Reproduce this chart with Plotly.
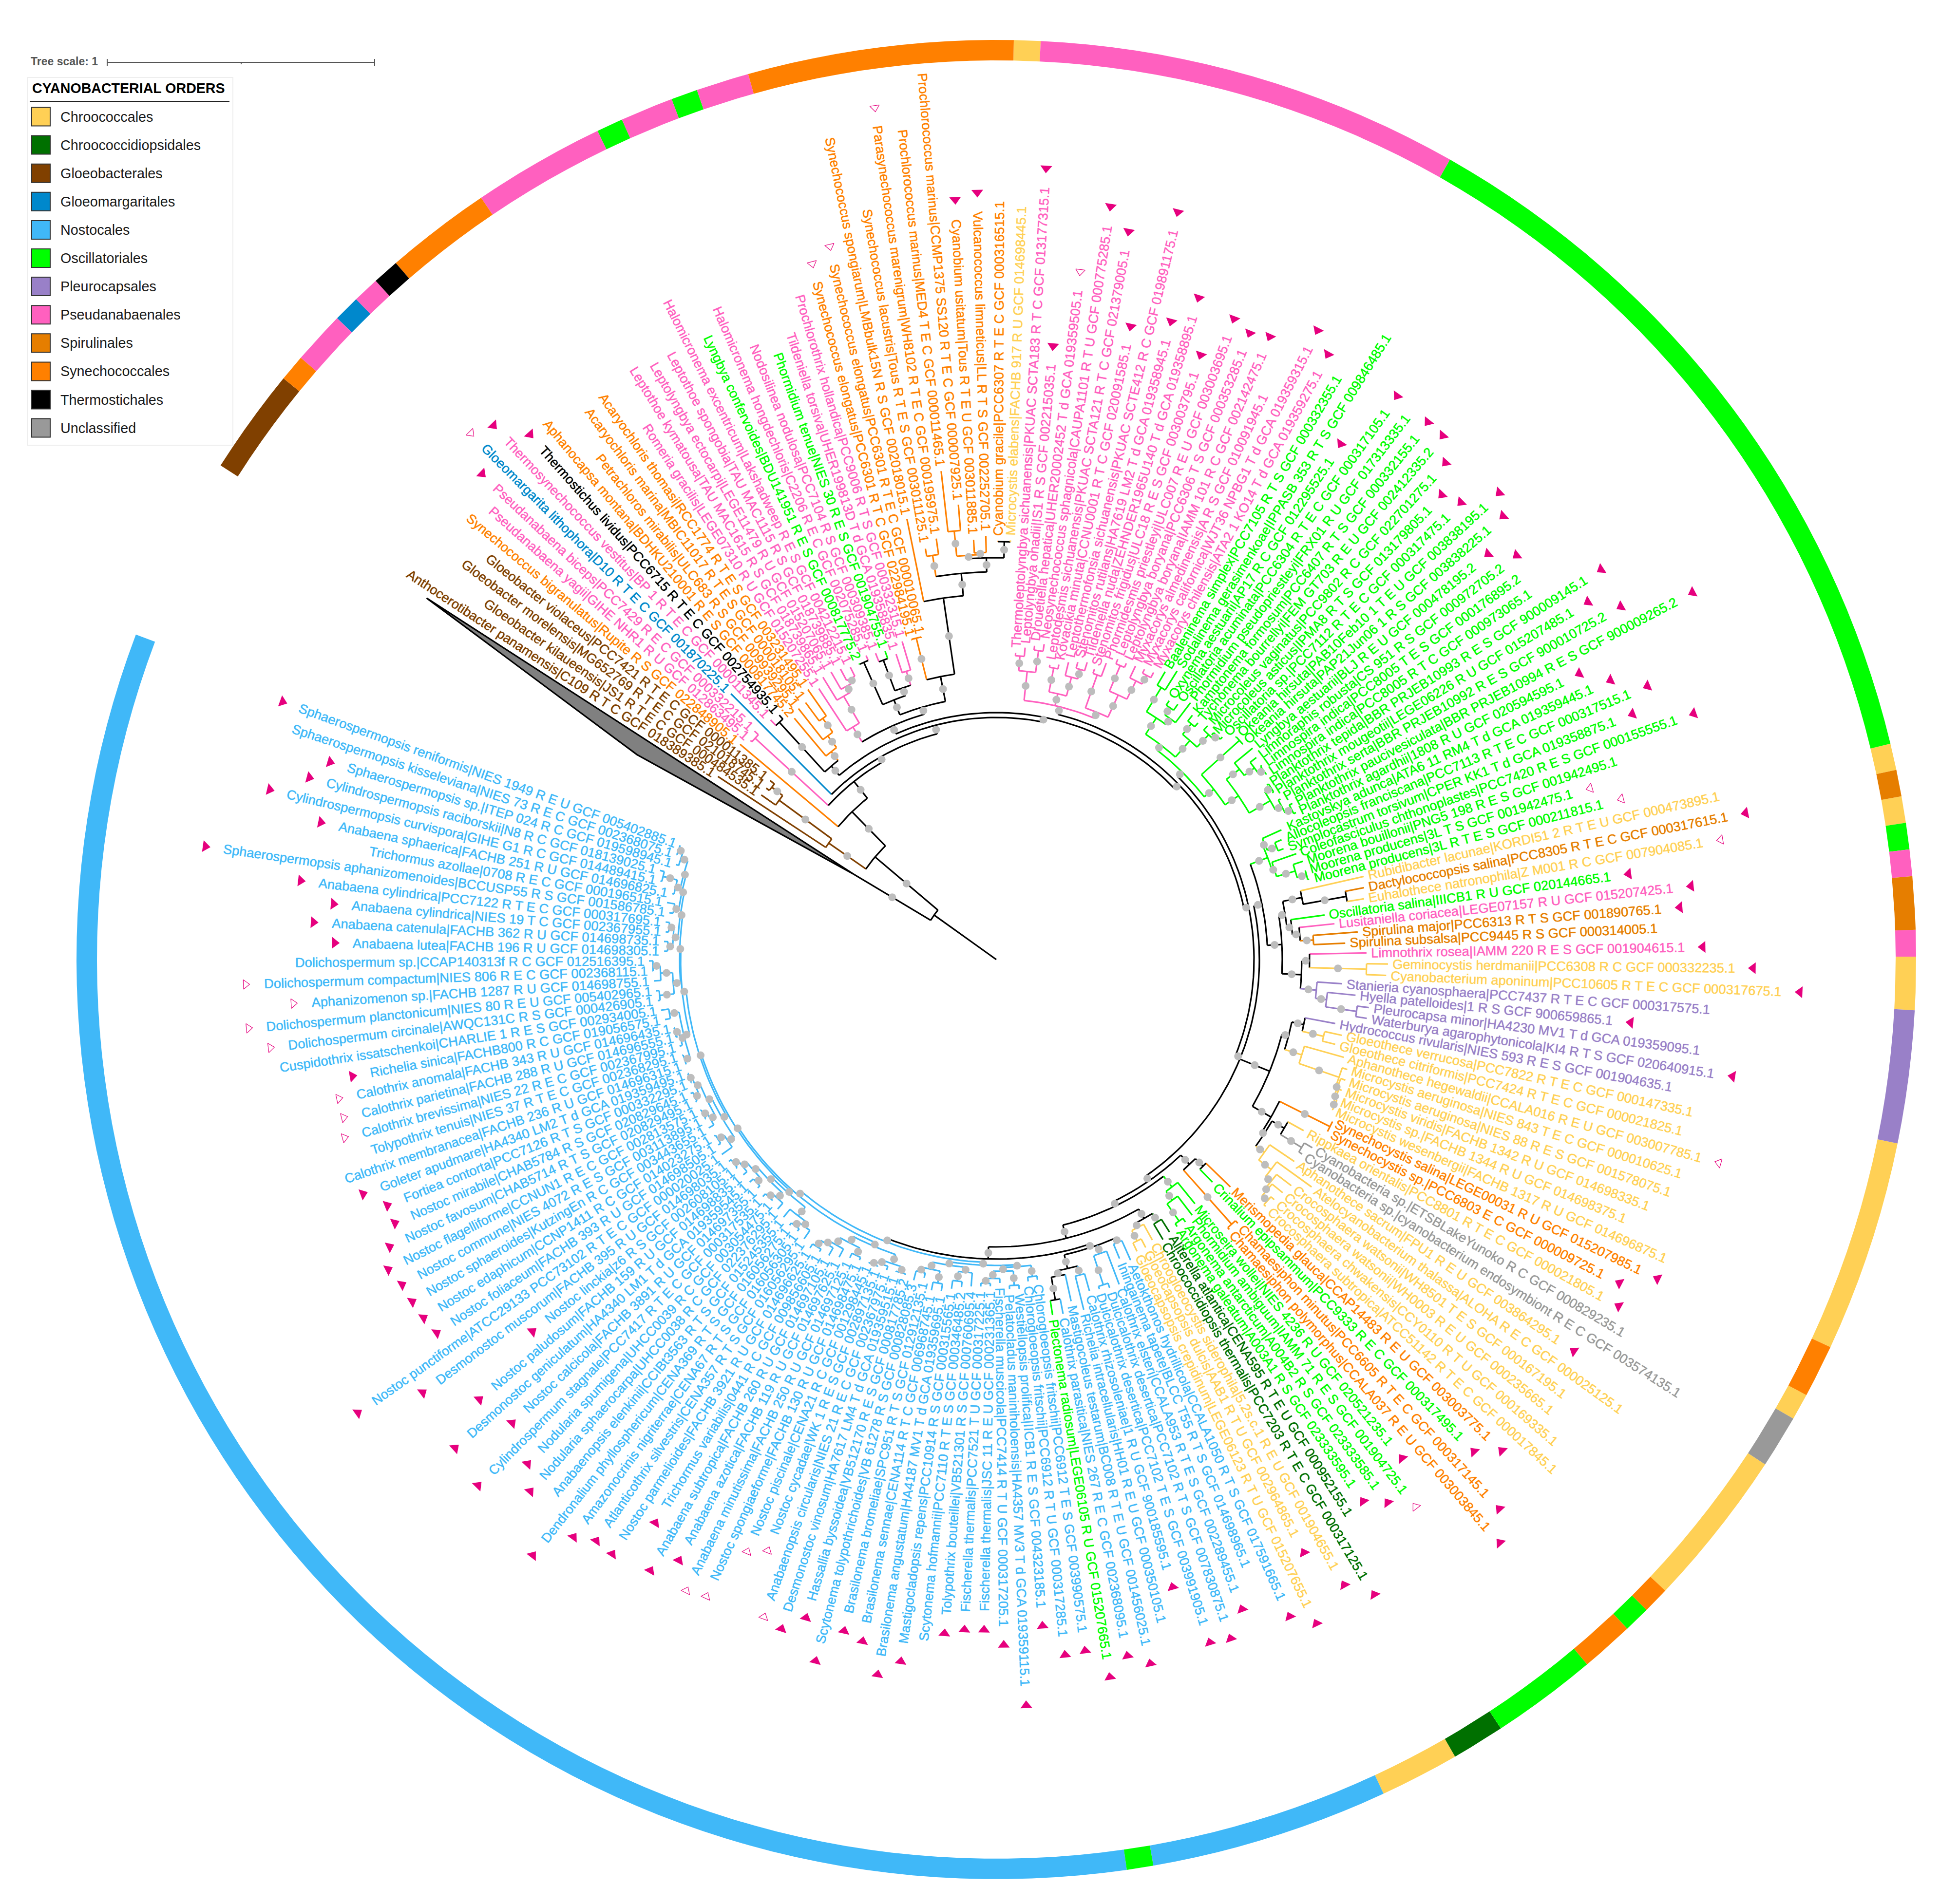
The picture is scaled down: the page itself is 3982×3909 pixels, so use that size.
import numpy as np
import plotly.graph_objects as go

# cyanobacterial orders
order_names = ["Chroococcales", "Chroococcidiopsidales", "Gloeobacterales", "Gloeomargaritales",
               "Nostocales", "Oscillatoriales", "Pleurocapsales", "Pseudanabaenales",
               "Spirulinales", "Synechococcales", "Thermostichales", "Unclassified"]
order_colors = ["#FFD055", "#007000", "#804000", "#0088CC", "#40B8F8", "#00FF00",
                "#9980C8", "#FF60BF", "#E67E00", "#FF8000", "#000000", "#999999"]

# leaves clockwise, starting at the root side
leaf_names = [
    "Anthocerotibacter panamensis|C109 R T C GCF 018389385.1", "Gloeobacter kilaueensis|JS1 R T E C GCF 000484535.1",
    "Gloeobacter morelensis|MG652769 R T E C GCF 021018745.1", "Gloeobacter violaceus|PCC7421 R T E C GCF 000011385.1",
    "Synechococcus bigranulatus|Rupite R S GCF 022848905.1", "Pseudanabaena yagii|GIHE NHR1 R U GCF 012863495.1",
    "Pseudanabaena biceps|PCC7429 R E C GCF 000332215.1", "Gloeomargarita lithophora|D10 R T E C GCF 001870225.1",
    "Thermosynechococcus vestitus|BP 1 R T E C GCF 000011345.1", "Thermostichus lividus|PCC6715 R T E C GCF 002754935.1",
    "Aphanocapsa montana|BDHKU210001 R E S GCF 000817745.2", "Petrachloros mirabilis|ULC683 R S GCF 009939295.1",
    "Acaryochloris marina|MBIC11017 R T E S GCF 000018105.1", "Acaryochloris thomasi|RCC1774 R T E S GCF 003231495.1",
    "Romeria gracilis|LEGE07310 R U GCF 015207255.1", "Leptothoe kymatousa|TAU MAC1615 R S GCF 018739865.1",
    "Leptolyngbya ectocarpi|LEGE11479 R U GCF 015207065.1", "Leptothoe spongobia|TAU MAC1115 R S GCF 018739885.1",
    "Halomicronema excentricum|Lakshadweep R E S GCF 004212215.1", "Lyngbya confervoides|BDU141951 R E S GCF 000817775.2",
    "Halomicronema hongdechloris|C2206 R E C GCF 002075285.1", "Nodosilinea nodulosa|PCC7104 R S GCF 000309385.1",
    "Phormidium tenue|NIES 30 R E S GCF 001904755.1", "Tildeniella torsiva|UHER199813D T d GCA 019358835.1",
    "Prochlorothrix hollandica|PCC9006 R T S GCF 000332315.1", "Synechococcus elongatus|PCC6301 R T C GCF 022984195.1",
    "Synechococcus elongatus|PCC6301 R T E C GCF 000010065.1", "Synechococcus spongiarum|LMBbulk15N R S GCF 002018015.1",
    "Synechococcus lacustris|Tous R T E S GCF 003011125.1", "Parasynechococcus marenigrum|WH8102 R T E C GCF 000195975.1",
    "Prochlorococcus marinus|MED4 T E C GCF 000011465.1", "Prochlorococcus marinus|CCMP1375 SS120 R T E C GCF 000007925.1",
    "Cyanobium usitatum|Tous R T E U GCF 003011885.1", "Vulcanococcus limneticus|LL R T S GCF 002252705.1",
    "Cyanobium gracile|PCC6307 R T E C GCF 000316515.1", "Microcystis elabens|FACHB 917 R U GCF 014698445.1",
    "Thermoleptolyngbya sichuanensis|PKUAC SCTA183 R T C GCF 013177315.1", "Leptolyngbya ohadii|IS1 R S GCF 002215035.1",
    "Drouetiella hepatica|UHER20002452 T d GCA 019359505.1", "Neosynechococcus sphagnicola|CAUPA1101 R T U GCF 000775285.1",
    "Leptodesmis sichuanensis|PKUAC SCTA121 R T C GCF 021379005.1", "Kovacikia minuta|CCNU0001 R T C GCF 020091585.1",
    "Leptothermofonsia sichuanensis|PKUAC SCTE412 R C GCF 019891175.1", "Stenomitos rutilans|HA7619 LM2 T d GCA 019358945.1",
    "Tildeniella nuda|ZEHNDER1965U140 T d GCA 019358895.1", "Stenomitos frigidus|ULC18 R E S GCF 003003795.1",
    "Phormidesmis priestleyi|ULC007 R E U GCF 003003695.1", "Leptolyngbya boryana|PCC6306 T S GCF 000353285.1",
    "Leptolyngbya boryana|IAMM 101 R C GCF 002142475.1", "Myxacorys almedinensis|A R S GCF 010091945.1",
    "Myxacorys californica|WJT36 NPBG1 T d GCA 019359315.1", "Myxacorys chilensis|ATA2 1 KO14 T d GCA 019359275.1",
    "Baaleninema simplex|PCC7105 R T S GCF 000332355.1", "Sodalinema gerasimenkoae|IPPASB 353 R T S GCF 009846485.1",
    "Oxynema aestuarii|AP17 R C GCF 012295525.1", "Oscillatoria acuminata|PCC6304 R T E C GCF 000317105.1",
    "Phormidium pseudopriestleyi|FRX01 R U GCF 017313335.1", "Kamptonema formosum|PCC6407 R T S GCF 000332155.1",
    "Tychonema bourrellyi|FEM GT703 R E U GCF 002412335.2", "Microcoleus vaginatus|PCC9802 R C GCF 022701275.1",
    "Microcoleus asticus|IPMA8 R T S GCF 013179805.1", "Oscillatoria sp.|PCC7112 R T E C GCF 000317475.1",
    "Okeania hirsuta|PAB10Feb10 1 T E U GCF 003838195.1", "Okeania hirsuta|PAP21Jun06 1 R S GCF 003838225.1",
    "Lyngbya aestuarii|BLJ R E U GCF 000478195.2", "Limnoraphis robusta|CS 951 R S GCF 000972705.2",
    "Limnospira indica|PCC8005 T E S GCF 000176895.2", "Limnospira indica|PCC8005 R T C GCF 000973065.1",
    "Planktothrix tepida|BBR PRJEB10993 R E S GCF 900009145.1", "Planktothrix mougeotii|LEGE06226 R U GCF 015207485.1",
    "Planktothrix serta|BBR PRJEB10992 R E S GCF 900010725.2", "Planktothrix paucivesiculata|BBR PRJEB10994 R E S GCF 900009265.2",
    "Planktothrix agardhii|1808 R U GCF 020594595.1", "Kastovskya adunca|ATA6 11 RM4 T d GCA 019359445.1",
    "Allocoleopsis franciscana|PCC7113 R T E C GCF 000317515.1", "Symplocastrum torsivum|CPER KK1 T d GCA 019358875.1",
    "Coleofasciculus chthonoplastes|PCC7420 R E S GCF 000155555.1", "Moorena bouillonii|PNG5 198 R E S GCF 001942495.1",
    "Moorena producens|3L T S GCF 001942475.1", "Moorena producens|3L R T E S GCF 000211815.1",
    "Rubidibacter lacunae|KORDI51 2 R T E U GCF 000473895.1", "Dactylococcopsis salina|PCC8305 R T E C GCF 000317615.1",
    "Euhalothece natronophila|Z M001 R C GCF 007904085.1", "Oscillatoria salina|IIICB1 R U GCF 020144665.1",
    "Lusitaniella coriacea|LEGE07157 R U GCF 015207425.1", "Spirulina major|PCC6313 R T S GCF 001890765.1",
    "Spirulina subsalsa|PCC9445 R S GCF 000314005.1", "Limnothrix rosea|IAMM 220 R E S GCF 001904615.1",
    "Geminocystis herdmanii|PCC6308 R C GCF 000332235.1", "Cyanobacterium aponinum|PCC10605 R T E C GCF 000317675.1",
    "Stanieria cyanosphaera|PCC7437 R T E C GCF 000317575.1", "Hyella patelloides|1 R S GCF 900659865.1",
    "Pleurocapsa minor|HA4230 MV1 T d GCA 019359095.1", "Waterburya agarophytonicola|KI4 R T S GCF 020640915.1",
    "Hydrococcus rivularis|NIES 593 R E S GCF 001904635.1", "Gloeothece verrucosa|PCC7822 R T E C GCF 000147335.1",
    "Gloeothece citriformis|PCC7424 R T E C GCF 000021825.1", "Aphanothece hegewaldii|CCALA016 R E U GCF 003007785.1",
    "Microcystis aeruginosa|NIES 843 T E C GCF 000010625.1", "Microcystis aeruginosa|NIES 88 R E S GCF 001578075.1",
    "Microcystis viridis|FACHB 1342 R U GCF 014698335.1", "Microcystis sp.|FACHB 1344 R U GCF 014698375.1",
    "Microcystis wesenbergii|FACHB 1317 R U GCF 014696875.1", "Synechocystis salina|LEGE00031 R U GCF 015207985.1",
    "Synechocystis sp.|PCC6803 E C GCF 000009725.1", "Rippkaea orientalis|PCC8801 R T E C GCF 000021805.1",
    "Cyanobacteria sp.|ETSBLakeYunoko R C GCF 000829235.1", "Cyanobacteria sp.|cyanobacterium endosymbiont R E C GCF 003574135.1",
    "Aphanothece sacrum|FPU1 R E U GCF 003864295.1", "Atelocyanobacterium thalassa|ALOHA R E C GCF 000025125.1",
    "Crocosphaera watsonii|WH8501 T E S GCF 000167195.1", "Crocosphaera watsonii|WH0003 R E U GCF 000235665.1",
    "Crocosphaera chwakensis|CCY0110 R T U GCF 000169335.1", "Crocosphaera subtropica|ATCC51142 R T E C GCF 000017845.1",
    "Merismopedia glauca|CCAP14483 R E U GCF 003003775.1", "Crinalium epipsammum|PCC9333 R E C GCF 000317495.1",
    "Chamaesiphon minutus|PCC6605 R T E C GCF 000317145.1", "Chamaesiphon polymorphus|CCALA037 R E U GCF 003003845.1",
    "Microseira wollei|NIES 4236 R U GCF 020521235.1", "Phormidium ambiguum|IAMM 71 R E S GCF 001904725.1",
    "Argonema antarcticum|A004B2 R S GCF 023333585.1", "Argonema galeatum|A003A1 R S GCF 023333595.1",
    "Aliterella atlantica|CENA595 R T E U GCF 000952155.1", "Chroococcidiopsis thermalis|PCC7203 R T E C GCF 000317125.1",
    "Chroogloeocystis siderophila|5.2s.c.1 R E U GCF 001904655.1", "Gloeocapsopsis dulcis|AAB1 R T U GCF 002964865.1",
    "Gloeocapsopsis crepidinum|LEGE06123 R T U GCF 015207655.1", "Aetokthonos hydrillicola|CCALA1050 R T S GCF 017591665.1",
    "Iningainema tapete|BLCC T55 R T S GCF 014698965.1", "Calothrix elsteri|CCALA953 R T E S GCF 002289455.1",
    "Dulcicalothrix desertica|PCC7102 R T S GCF 007830875.1", "Dulcicalothrix desertica|PCC7102 T E S GCF 003991905.1",
    "Calothrix rhizosoleniae|1 R U GCF 900185595.1", "Richelia intracellularis|HH01 R E U GCF 000350105.1",
    "Mastigocoleus testarum|BC008 R T E U GCF 001456025.1", "Calothrix parasitica|NIES 267 R E C GCF 002368095.1",
    "Plectonema radiosum|LEGE06105 R U GCF 015207665.1", "Chlorogloeopsis fritschii|PCC6912 T E S GCF 003990575.1",
    "Chlorogloeopsis fritschii|PCC6912 R T U GCF 000317285.1", "Westiellopsis prolifica|IICB1 R E S GCF 004323185.1",
    "Pelatocladus maniniholoensis|HA4357 MV3 T d GCA 019359115.1", "Fischerella muscicola|PCC7414 R T U GCF 000317205.1",
    "Fischerella thermalis|JSC 11 R E U GCF 000231365.1", "Fischerella thermalis|PCC7521 T U GCF 000317225.1",
    "Tolypothrix bouteillei|VB521301 R S GCF 000760695.4", "Scytonema hofmannii|PCC7110 R T E S GCF 000346485.2",
    "Mastigocladopsis repens|PCC10914 R S GCF 000315565.1", "Brasilonema angustatum|HA4187 MV1 T d GCA 019359695.1",
    "Brasilonema sennae|CENA114 R T C GCF 006968745.1", "Brasilonema bromeliae|SPC951 R T S GCF 012912135.1",
    "Scytonema tolypothrichoides|VB 61278 R S GCF 000828085.3", "Hassallia byssoidea|VB512170 R E S GCF 000817785.2",
    "Desmonostoc vinosum|HA7617 LM4 T d GCA 019359515.1", "Anabaenopsis circularis|NIES 21 R E C GCF 002367975.1",
    "Nostoc cycadae|WK 1 R E S GCF 002897135.1", "Nostoc piscinale|CENA21 R C GCF 001298445.1",
    "Nostoc spongiaeforme|FACHB 130 R U GCF 014698475.1", "Anabaena minutissima|FACHB 250 R U GCF 014697125.1",
    "Anabaena azotica|FACHB 119 R U GCF 014697625.1", "Anabaena subtropica|FACHB 260 R U GCF 014697105.1",
    "Trichormus variabilis|0441 R C GCF 009856605.1", "Nostoc parmelioides|FACHB 3921 R U GCF 014696625.1",
    "Atlanticothrix silvestris|CENA357 R T S GCF 016056295.1", "Amazonocrinis nigriterrae|CENA67 R T S GCF 016056305.1",
    "Dendronalium phyllosphericum|CENA369 R T S GCF 016056275.1", "Anabaenopsis elenkinii|CCIBt3563 R T S GCF 015245355.1",
    "Nodularia sphaerocarpa|UHCC0038 R C GCF 022376295.1", "Nodularia spumigena|UHCC0039 R C GCF 003054475.1",
    "Cylindrospermum stagnale|PCC7417 R T E C GCF 000317535.1", "Nostoc calcicola|FACHB 3891 R U GCF 014697355.1",
    "Desmonostoc geniculatum|HA4340 LM1 T d GCA 019359545.1", "Nostoc paludosum|FACHB 159 R U GCF 014698835.1",
    "Nostoc linckia|z6 R S GCF 002608105.1", "Desmonostoc muscorum|FACHB 395 R U GCF 014698035.1",
    "Nostoc punctiforme|ATCC29133 PCC73102 R T E C GCF 000020025.1", "Nostoc foliaceum|FACHB 393 R U GCF 014698505.1",
    "Nostoc edaphicum|CCNP1411 R C GCF 014023275.1", "Nostoc sphaeroides|KutzingEn R C GCF 003443655.1",
    "Nostoc commune|NIES 4072 R E S GCF 003113895.1", "Nostoc flagelliforme|CCNUN1 R E C GCF 002813575.1",
    "Nostoc favosum|CHAB5714 R T S GCF 020829495.1", "Nostoc mirabile|CHAB5784 R S GCF 020829645.1",
    "Fortiea contorta|PCC7126 R T S GCF 000332295.1", "Goleter apudmare|HA4340 LM2 T d GCA 019359495.1",
    "Calothrix membranacea|FACHB 236 R U GCF 014696315.1", "Tolypothrix tenuis|NIES 37 R T E C GCF 002368295.1",
    "Calothrix brevissima|NIES 22 R E C GCF 002367995.1", "Calothrix parietina|FACHB 288 R U GCF 014696555.1",
    "Calothrix anomala|FACHB 343 R U GCF 014696435.1", "Richelia sinica|FACHB800 R C GCF 019056575.1",
    "Cuspidothrix issatschenkoi|CHARLIE 1 R E S GCF 002934005.1", "Dolichospermum circinale|AWQC131C R S GCF 000426905.1",
    "Dolichospermum planctonicum|NIES 80 R E U GCF 005402965.1", "Aphanizomenon sp.|FACHB 1287 R U GCF 014698755.1",
    "Dolichospermum compactum|NIES 806 R E C GCF 002368115.1", "Dolichospermum sp.|CCAP140313f R C GCF 012516395.1",
    "Anabaena lutea|FACHB 196 R U GCF 014698305.1", "Anabaena catenula|FACHB 362 R U GCF 014698735.1",
    "Anabaena cylindrica|NIES 19 T C GCF 002367955.1", "Anabaena cylindrica|PCC7122 R T E C GCF 000317695.1",
    "Sphaerospermopsis aphanizomenoides|BCCUSP55 R S GCF 001586785.1", "Trichormus azollae|0708 R E C GCF 000196515.1",
    "Anabaena sphaerica|FACHB 251 R U GCF 014696825.1", "Cylindrospermopsis curvispora|GIHE G1 R C GCF 014489415.1",
    "Cylindrospermopsis raciborskii|N8 R C GCF 018139025.1", "Sphaerospermopsis sp.|ITEP 024 R C GCF 019598945.1",
    "Sphaerospermopsis kisseleviana|NIES 73 R E C GCF 002368075.1", "Sphaerospermopsis reniformis|NIES 1949 R E U GCF 005402885.1",
]

# order of the leaves as runs along the ring (index in order_names, leaf count)
order_runs = [(2, 4), (9, 1), (7, 2), (3, 1), (7, 1), (10, 1), (9, 4), (7, 5), (5, 1), (7, 2), (5, 1), (7, 2),
              (9, 10), (0, 1), (7, 16), (5, 28), (0, 1), (8, 1), (0, 1), (5, 1), (7, 1), (8, 2), (7, 1), (0, 2),
              (6, 5), (0, 8), (9, 2), (0, 1), (11, 2), (0, 6), (9, 1), (5, 1), (9, 2), (5, 4), (1, 2), (0, 3),
              (4, 9), (5, 1), (4, 71)]

# distance of each leaf tip from the root
tip_dist = [693, 598, 598, 601, 696, 685, 692, 780, 685, 680,
            655, 665, 666, 685, 674, 689, 690, 686, 680, 679,
            688, 685, 682, 669, 690, 687, 687, 932, 865, 882,
            1018, 946, 872, 879, 869, 870, 640, 652, 658, 664,
            624, 628, 637, 642, 647, 638, 658, 674, 673, 676,
            678, 681, 694, 708, 648, 652, 670, 652, 647, 656,
            648, 660, 679, 680, 691, 685, 684, 682, 670, 671,
            679, 696, 694, 652, 644, 641, 662, 670, 669, 672,
            782, 778, 774, 689, 707, 753, 726, 769, 813, 810,
            720, 750, 780, 779, 717, 735, 726, 750, 764, 767,
            767, 765, 764, 774, 775, 731, 764, 753, 748, 807,
            772, 767, 763, 759, 679, 646, 743, 741, 655, 670,
            673, 671, 672, 678, 668, 675, 674, 685, 673, 722,
            722, 718, 716, 750, 727, 749, 748, 672, 673, 687,
            686, 673, 680, 681, 682, 685, 691, 699, 701, 679,
            689, 683, 683, 685, 685, 683, 687, 691, 700, 707,
            710, 714, 705, 700, 700, 695, 690, 685, 692, 687,
            691, 691, 694, 697, 700, 695, 692, 693, 691, 691,
            692, 694, 685, 682, 682, 683, 683, 682, 683, 700,
            705, 709, 710, 713, 715, 722, 691, 692, 690, 692,
            687, 695, 688, 717, 723, 695, 700, 699]

# clades as (first leaf, last leaf, distance of the node from the root)
clades = [
    (0, 207, 326), (0, 3, 419), (1, 3, 553), (2, 3, 581), (4, 207, 424), (5, 207, 468), (5, 6, 672), (7, 207, 479),
    (8, 207, 497), (8, 13, 522), (8, 9, 660), (10, 13, 545), (11, 13, 575), (12, 13, 610), (14, 207, 507),
    (14, 35, 525), (14, 18, 561), (15, 18, 625), (16, 18, 640), (17, 18, 650), (19, 35, 540), (19, 24, 573),
    (19, 20, 668), (21, 24, 590), (21, 22, 657), (23, 24, 620), (25, 35, 592), (25, 26, 680), (27, 35, 750),
    (28, 35, 796), (28, 29, 840), (30, 35, 825), (30, 33, 832), (30, 31, 884), (32, 33, 836), (34, 35, 858),
    (36, 207, 519), (36, 51, 535), (36, 39, 595), (36, 37, 625), (38, 39, 640), (40, 44, 560), (40, 41, 610),
    (42, 44, 600), (43, 44, 620), (45, 51, 548), (45, 46, 620), (47, 51, 598), (47, 48, 655), (49, 51, 640),
    (50, 51, 660), (52, 207, 529), (52, 72, 542), (52, 61, 555), (52, 56, 595), (52, 53, 653), (54, 56, 610),
    (54, 55, 628), (57, 61, 600), (57, 58, 628), (59, 61, 635), (60, 61, 645), (62, 72, 567), (62, 63, 672),
    (64, 72, 600), (64, 67, 634), (65, 67, 660), (66, 67, 672), (68, 72, 650), (68, 69, 665), (70, 72, 665),
    (71, 72, 680), (73, 207, 540), (73, 93, 557), (73, 79, 595), (73, 75, 600), (74, 75, 620), (76, 79, 600),
    (77, 79, 640), (78, 79, 660), (80, 93, 587), (80, 86, 600), (80, 82, 640), (81, 82, 730), (83, 86, 610),
    (84, 86, 625), (85, 86, 652), (87, 93, 627), (87, 89, 643), (88, 89, 760), (90, 93, 660), (91, 93, 683),
    (92, 93, 747), (94, 113, 606), (94, 102, 620), (94, 96, 645), (95, 96, 690), (97, 102, 657), (98, 102, 744),
    (99, 102, 748), (100, 102, 752), (101, 102, 756), (103, 113, 650), (103, 104, 766), (105, 113, 656),
    (105, 107, 685), (106, 107, 736), (108, 113, 678), (109, 113, 710), (110, 113, 725), (111, 113, 730),
    (112, 113, 745), (114, 207, 552), (114, 117, 578), (114, 115, 600), (116, 117, 727), (118, 207, 562),
    (118, 121, 590), (119, 121, 612), (120, 121, 655), (122, 207, 590), (122, 126, 612), (122, 123, 632),
    (124, 126, 622), (125, 126, 646), (127, 207, 615), (127, 136, 622), (127, 128, 632), (129, 131, 640),
    (130, 131, 703), (132, 136, 651), (132, 133, 670), (134, 136, 662), (135, 136, 709), (137, 207, 622),
    (137, 150, 628), (137, 143, 632), (137, 138, 655), (139, 143, 640), (139, 140, 670), (141, 143, 655),
    (142, 143, 665), (144, 150, 635), (144, 146, 645), (145, 146, 665), (147, 150, 650), (147, 148, 675),
    (149, 150, 660), (151, 207, 632), (151, 161, 640), (151, 155, 660), (151, 152, 672), (153, 155, 668),
    (154, 155, 675), (156, 161, 655), (156, 157, 672), (158, 161, 672), (159, 161, 680), (160, 161, 695),
    (162, 207, 636), (162, 173, 642), (162, 165, 665), (162, 164, 675), (163, 164, 685), (166, 173, 650),
    (166, 168, 665), (167, 168, 675), (169, 173, 660), (169, 170, 672), (171, 173, 672), (172, 173, 682),
    (174, 207, 640), (174, 183, 650), (174, 176, 665), (175, 176, 680), (177, 183, 660), (177, 179, 672),
    (178, 179, 680), (180, 183, 670), (180, 181, 680), (182, 183, 675), (184, 207, 648), (184, 190, 660),
    (184, 185, 672), (186, 188, 668), (187, 188, 676), (189, 190, 680), (191, 207, 650), (191, 195, 665),
    (191, 192, 695), (193, 195, 690), (194, 195, 705), (196, 207, 655), (196, 199, 665), (196, 197, 675),
    (198, 199, 675), (200, 207, 660), (200, 201, 670), (202, 207, 665), (202, 204, 675), (203, 204, 705),
    (205, 207, 680), (206, 207, 690),
]

# collapsed outgroup wedge (distance, angle)
wedge_dist = [341, 849, 1385]
wedge_angle = [300.9, 299.7, 302.4]
root_dist = 157

# leaves with a filled / an open triangle
filled_marks = [6, 8, 9, 32, 33, 36, 37, 39, 40, 41, 42, 43, 44, 45, 46, 47, 48, 50, 51, 54, 55, 57, 58, 59, 60, 61,
                62, 63, 64, 65, 68, 69, 70, 71, 72, 73, 74, 75, 76, 81, 83, 84, 85, 87, 88, 89, 91, 93, 103, 104, 105,
                108, 114, 115, 116, 117, 118, 120, 121, 123, 124, 125, 126, 127, 129, 130, 131, 132, 134, 135, 136,
                137, 138, 139, 140, 141, 142, 143, 144, 146, 147, 148, 149, 150, 151, 152, 158, 159, 160, 161, 162,
                163, 164, 166, 167, 168, 169, 170, 171, 172, 173, 174, 175, 176, 177, 178, 179, 180, 181, 182, 183,
                189, 196, 197, 198, 199, 200, 202, 203, 204, 205, 207]
open_marks = [7, 25, 26, 29, 38, 78, 79, 82, 97, 119, 153, 154, 155, 156, 157, 186, 187, 188, 191, 192, 193, 194]

# geometry of the page
WIDTH, HEIGHT = 3982, 3909
CX, CY = 2045, 1970
RING_IN, RING_OUT = 1846, 1888
RING_START, RING_END = 302.5, 650.7
FONT = "Liberation Sans"
LABEL_SIZE = 27.3
LINE_W = 3.2

leaf_order = [o for o, n in order_runs for _ in range(n)]
n_leaves = len(leaf_names)
step = (RING_END - RING_START) / n_leaves
leaf_angle = [RING_START + (i + 0.5) * step for i in range(n_leaves)]

# widths of the label font, per 1000 em
char_w = {" ": 278, "|": 260, ".": 278, "I": 278, "J": 500, "L": 556, "F": 611, "T": 611, "Z": 611,
          "A": 667, "B": 667, "E": 667, "K": 667, "P": 667, "S": 667, "V": 667, "X": 667, "Y": 667,
          "C": 722, "D": 722, "H": 722, "N": 722, "R": 722, "U": 722, "G": 778, "O": 778, "Q": 778,
          "M": 833, "W": 944, "f": 278, "t": 278, "i": 222, "j": 222, "l": 222, "r": 333, "m": 833, "w": 722,
          "c": 500, "k": 500, "s": 500, "v": 500, "x": 500, "y": 500, "z": 500}


def text_width(s, size):
    return sum(char_w.get(c, 556) for c in s) * size / 1000


def to_xy(dist, angle):
    a = np.radians(angle)
    return CX + dist * np.sin(a), CY - dist * np.cos(a)


def arc_points(dist, a0, a1):
    n = max(2, int(abs(a1 - a0) / 1.5) + 2)
    return to_xy(dist, np.linspace(a0, a1, n))


# ----- tree from the clade list
branch_paths = {}
dot_x, dot_y = [], []


def add_path(color, xs, ys):
    path = branch_paths.setdefault(color, ([], []))
    path[0].extend(list(np.atleast_1d(xs)) + [None])
    path[1].extend(list(np.atleast_1d(ys)) + [None])


def add_radial(color, d0, d1, angle):
    x, y = to_xy(np.array([d0, d1]), angle)
    add_path(color, x, y)


def clade_color(first, last):
    used = set(leaf_order[first:last + 1])
    return order_colors[used.pop()] if len(used) == 1 else "#000000"


children = {}
for c in sorted(clades, key=lambda c: c[1] - c[0]):
    parents = [p for p in clades if p != c and p[0] <= c[0] and c[1] <= p[1]]
    if parents:
        children.setdefault(min(parents, key=lambda p: p[1] - p[0]), []).append(c)


def draw_clade(clade, parent_dist):
    first, last, dist = clade
    color = clade_color(first, last)
    angles = []
    kids = sorted(children.get(clade, []))
    i = first
    while i <= last:
        kid = next((k for k in kids if k[0] == i), None)
        if kid:
            angles.append(draw_clade(kid, dist))
            i = kid[1] + 1
        else:
            add_radial(order_colors[leaf_order[i]], dist, tip_dist[i] - 9, leaf_angle[i])
            angles.append(leaf_angle[i])
            i += 1
    angle = (angles[0] + angles[-1]) / 2
    add_path(color, *arc_points(dist, angles[0], angles[-1]))
    add_radial(color, parent_dist, dist, angle)
    x, y = to_xy((parent_dist + dist) / 2, angle)
    dot_x.append(x)
    dot_y.append(y)
    return angle


top_angle = draw_clade(clades[0], root_dist)
add_path("#000000", *arc_points(root_dist, wedge_angle[0], top_angle))
add_radial("#000000", root_dist, wedge_dist[0], wedge_angle[0])
add_radial("#000000", 0, root_dist, (wedge_angle[0] + top_angle) / 2)
x, y = to_xy((root_dist + wedge_dist[0]) / 2, wedge_angle[0])
dot_x.append(x)
dot_y.append(y)

fig = go.Figure()

# coloured ring, one polygon for each run of leaves
for o, color in enumerate(order_colors):
    xs, ys = [], []
    pos = 0
    for run_order, n in order_runs:
        if run_order == o:
            a0, a1 = RING_START + pos * step, RING_START + (pos + n) * step
            ox, oy = arc_points(RING_OUT, a0, a1)
            ix, iy = arc_points(RING_IN, a1, a0)
            xs += list(ox) + list(ix) + [ox[0], None]
            ys += list(oy) + list(iy) + [oy[0], None]
        pos += n
    fig.add_trace(go.Scatter(x=xs, y=ys, mode="lines", fill="toself", fillcolor=color,
                             line=dict(width=0, color=color), hoverinfo="skip"))

# outgroup wedge
wx, wy = to_xy(np.array(wedge_dist), np.array(wedge_angle))
fig.add_trace(go.Scatter(x=list(wx) + [wx[0]], y=list(wy) + [wy[0]], mode="lines", fill="toself",
                         fillcolor="#808080", line=dict(color="#000000", width=LINE_W), hoverinfo="skip"))

for color, (xs, ys) in branch_paths.items():
    fig.add_trace(go.Scatter(x=xs, y=ys, mode="lines", hoverinfo="skip",
                             line=dict(color=color, width=LINE_W, shape="linear")))

fig.add_trace(go.Scatter(x=dot_x, y=dot_y, mode="markers", hoverinfo="skip",
                         marker=dict(color="#BDBDBD", size=16, line=dict(width=0))))

# leaf labels, the soft shadow thickens the strokes as in the reference
annotations = []
for i, name in enumerate(leaf_names):
    a = leaf_angle[i] % 360
    w = text_width(name, LABEL_SIZE)
    x, y = to_xy(tip_dist[i] + w / 2, a)
    angle = a - 90 if a < 180 else a - 270
    color = order_colors[leaf_order[i]]
    annotations.append(dict(x=x, y=y, text=name, textangle=angle, showarrow=False, xanchor="center", yanchor="middle",
                            borderpad=0, font=dict(family=FONT, size=LABEL_SIZE, color=color,
                                                   shadow="0 0 1px " + color)))


# triangles pointing at the tree
def mark_trace(idx, symbol, size, line_w):
    ds = [tip_dist[i] + text_width(leaf_names[i], LABEL_SIZE) + 37 for i in idx]
    angs = [leaf_angle[i] for i in idx]
    x, y = to_xy(np.array(ds), np.array(angs))
    return go.Scatter(x=x, y=y, mode="markers", hoverinfo="skip",
                      marker=dict(symbol=symbol, size=size, color="#E6007E", angle=[a + 180 for a in angs],
                                  line=dict(color="#E6007E", width=line_w)))


fig.add_trace(mark_trace(filled_marks, "triangle-up", 21, 0))
fig.add_trace(mark_trace(open_marks, "triangle-up-open", 17, 1.2))

# legend box
LEG_X, LEG_Y0, LEG_DY = 84, 239.5, 58.1
rows = [LEG_Y0 + k * LEG_DY for k in range(len(order_names))]
fig.add_trace(go.Scatter(x=[LEG_X] * len(rows), y=rows, mode="markers", hoverinfo="skip",
                         marker=dict(symbol="square", size=38, color=order_colors,
                                     line=dict(color="#333333", width=2))))
for name, y in zip(order_names, rows):
    annotations.append(dict(x=122, y=y, text=name, showarrow=False, xanchor="left", yanchor="middle",
                            font=dict(family=FONT, size=28.8, color="#1a1a1a")))
annotations.append(dict(x=64, y=181, text="<b>CYANOBACTERIAL ORDERS</b>", showarrow=False, xanchor="left",
                        yanchor="middle", font=dict(family=FONT, size=28.6, color="#000000")))
annotations.append(dict(x=61, y=126, text="<b>Tree scale: 1</b>", showarrow=False, xanchor="left", yanchor="middle",
                        font=dict(family=FONT, size=23, color="#555555")))

shapes = [
    dict(type="rect", x0=56, x1=478, y0=159, y1=914, line=dict(color="#EEEEEE", width=2), layer="below"),
    dict(type="line", x0=61, x1=471, y0=208, y1=208, line=dict(color="#222222", width=2)),
    dict(type="line", x0=220, x1=769, y0=128, y1=128, line=dict(color="#555555", width=2)),
    dict(type="line", x0=220, x1=220, y0=121, y1=135, line=dict(color="#555555", width=2)),
    dict(type="line", x0=495, x1=495, y0=128, y1=132, line=dict(color="#555555", width=2)),
    dict(type="line", x0=769, x1=769, y0=121, y1=135, line=dict(color="#555555", width=2)),
]

fig.update_layout(
    width=WIDTH, height=HEIGHT, margin=dict(l=0, r=0, t=0, b=0),
    paper_bgcolor="white", plot_bgcolor="white", showlegend=False,
    xaxis=dict(range=[0, WIDTH], visible=False, fixedrange=True),
    yaxis=dict(range=[HEIGHT, 0], visible=False, fixedrange=True),
    annotations=annotations, shapes=shapes,
)

fig.write_html("out.html", config={"displayModeBar": False}, post_script="document.body.style.margin='0';")
